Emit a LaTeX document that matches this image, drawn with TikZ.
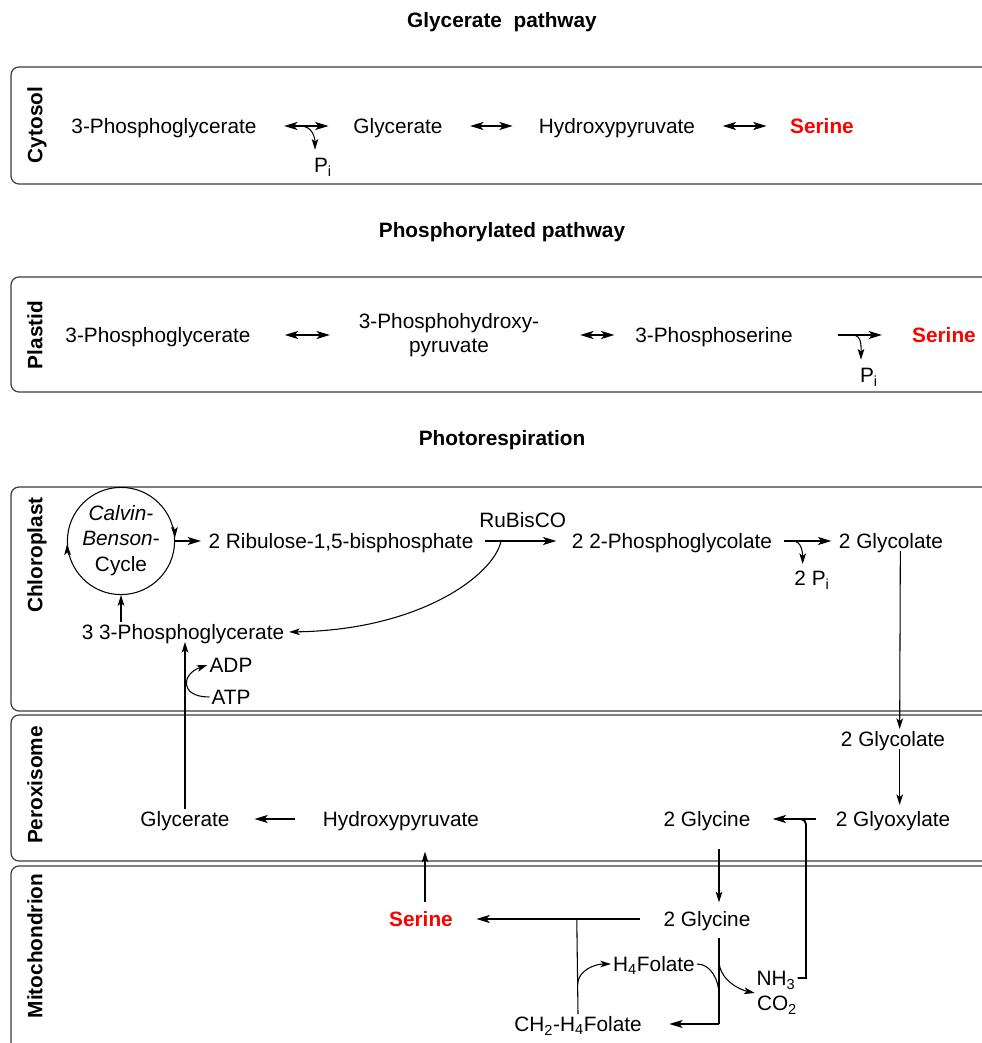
\documentclass[tikz,border=0pt]{standalone}
\usepackage{fontspec}
\setmainfont{Liberation Sans}
\usetikzlibrary{arrows.meta}
\definecolor{SerRed}{HTML}{FF0000}
\definecolor{BoxLine}{HTML}{3A3A3A}
\newcommand\fs{\fontsize{15.6}{18}\selectfont}
\tikzset{
  comp/.style={draw=BoxLine,line width=.9pt,rounded corners=6pt},
  title/.style={font=\fs\bfseries},
  side/.style={rotate=90,font=\fs\bfseries},
  ser/.style={font=\fs\bfseries,text=SerRed},
  arr/.style={-{Stealth[length=8pt,width=5pt,inset=2pt]}},
  rxn/.style={-{Stealth[length=10pt,width=6pt,inset=2.5pt]},line width=1.4pt},
  rev/.style={{Stealth[length=10pt,width=6pt,inset=2.5pt]}-{Stealth[length=10pt,width=6pt,inset=2.5pt]},line width=1.4pt},
  thn/.style={arr,line width=.8pt},
  lnk/.style={line width=.8pt},
  lnkthk/.style={line width=1.4pt},
  multi/.style={align=center,text height=,text depth=},
}

\begin{document}
\begin{tikzpicture}[x=0.75pt,y=0.75pt,font=\fs,
  every node/.style={inner sep=1.5pt,text height=11.4pt,text depth=.2pt}]
\path[use as bounding box] (0,0) rectangle (982,1043);
% compartments
\draw[comp] (11,976) rectangle (1000,859);
\draw[comp] (11,766) rectangle (1000,651);
\draw[comp] (11,556) rectangle (1000,332);
\draw[comp] (11,328) rectangle (1000,182);
\draw[comp] (11,177) rectangle (1000,-20);
\node[title] (tgly) at (502,1023) {Glycerate\ \ pathway};
\node[title] (tphos) at (502,813) {Phosphorylated pathway};
\node[title] (tphot) at (502,605) {Photorespiration};
\node[side] (lcyt) at (35,918) {Cytosol};
\node[side] (lpla) at (35,708) {Plastid};
\node[side] (lchl) at (35,488) {Chloroplast};
\node[side] (lper) at (35,258) {Peroxisome};
\node[side] (lmit) at (35,97) {Mitochondrion};

% cytosol
\node (cy1) at (164,917) {3-Phosphoglycerate};
\node (cy2) at (398,917) {Glycerate};
\node (cy3) at (617,917) {Hydroxypyruvate};
\node[ser] (cy4) at (822,917) {Serine};
\node (cypi) at (323,878) {P\textsubscript{i}};
\draw[rev,shorten <=19pt,shorten >=17pt] (cy1) -- coordinate[pos=.45] (cm1) (cy2);
\draw[rev,shorten <=19pt,shorten >=18pt] (cy2) -- (cy3);
\draw[rev,shorten <=19pt,shorten >=16pt] (cy3) -- (cy4);
\draw[thn] (cm1) .. controls +(12,0) and +(0,12) .. ([shift={(-6pt,4pt)}]cypi.north);

% plastid
\node (pl1) at (158,708) {3-Phosphoglycerate};
\node[multi] (pl2) at (449,708) {3-Phosphohydroxy-\\pyruvate};
\node (pl3) at (714,708) {3-Phosphoserine};
\node[ser] (pl4) at (944,708) {Serine};
\node (plpi) at (869,668) {P\textsubscript{i}};
\draw[rev,shorten <=24pt,shorten >=20pt] (pl1) -- (pl2);
\draw[rev,shorten <=29pt,shorten >=14pt] (pl2) -- (pl3);
\draw[rxn,shorten <=32pt,shorten >=21pt] (pl3) -- coordinate[pos=.5] (pm1) (pl4);
\draw[thn] (pm1) .. controls +(10,0) and +(0,12) .. ([shift={(-6pt,4pt)}]plpi.north);

% chloroplast
\node[multi,draw,circle,minimum size=78pt,inner sep=0pt,line width=.8pt] (cbc) at (121,502)
  {\raisebox{-3pt}{\begin{tabular}{@{}c@{}}\textit{Calvin-}\\[1pt]\textit{Benson}-\\[1pt]Cycle\end{tabular}}};
\draw[arr,line width=.8pt] (cbc.195) arc[start angle=195,end angle=183,radius=39pt];
\draw[arr,line width=.8pt] (cbc.15) arc[start angle=15,end angle=3,radius=39pt];
\node (rub) at (341,502) {2 Ribulose-1,5-bisphosphate};
\node (pgly) at (672,502) {2 2-Phosphoglycolate};
\node (gly1) at (891,502) {2 Glycolate};
\node (chpi) at (812,465) {2 P\textsubscript{i}};
\node (pg3) at (183,411) {3 3-Phosphoglycerate};
\node (adp) at (231,378) {ADP};
\node (atp) at (231,346) {ATP};
\draw[rxn,shorten >=4pt] (cbc) -- (rub);
\draw[rxn,shorten <=7pt,shorten >=10pt] (rub) -- coordinate[pos=.27] (rbm) node[midway,above=8pt] (rbc) {RuBisCO} (pgly);
\draw[thn,shorten >=2pt] (rbm) .. controls (494,468) and (420,413) .. (pg3.east);
\draw[rxn,shorten <=7pt,shorten >=4pt] (pgly) -- coordinate[pos=.3] (pm2) (gly1);
\draw[thn] (pm2) .. controls +(9,0) and +(0,10) .. ([shift={(-7pt,3pt)}]chpi.north);
\draw[thn] (pg3.north -| cbc.south) -- (cbc.south);

% peroxisome
\node (glyP) at (893,304) {2 Glycolate};
\node (glyox) at (893,224) {2 Glyoxylate};
\node (glyP2) at (707,224) {2 Glycine};
\node (hpyr) at (401,224) {Hydroxypyruvate};
\node (glyc) at (185,224) {Glycerate};
\draw[thn] ([xshift=7pt]gly1.south) -- ([xshift=5pt]glyP.north);
\draw[thn,shorten >=3pt] ([xshift=5pt]glyP.south) -- ([xshift=5pt]glyox.north);
\draw[rxn,shorten <=13pt,shorten >=15pt] (glyox) -- coordinate[pos=.34] (oxm) (glyP2);
\draw[rxn,shorten <=19pt,shorten >=17pt] (hpyr) -- (glyc);
\draw[thn] (glyc.north) -- (glyc.north |- pg3.south);
\draw[thn] (atp.west) .. controls +(-30,0) and +(-26,-9) .. (adp.west);

% mitochondrion
\node[ser] (ser) at (421,124) {Serine};
\node (glyM) at (707,124) {2 Glycine};
\node (h4f) at (654,79) {H\textsubscript{4}Folate};
\node (ch2) at (578,19) {CH\textsubscript{2}-H\textsubscript{4}Folate};
\node (nh3) at (776,65) {NH\textsubscript{3}};
\node (co2) at (777,40) {CO\textsubscript{2}};
\draw[thn,shorten <=15pt,shorten >=5pt] ([xshift=9pt]glyP2.south) -- ([xshift=9pt]glyM.north);
\draw[thn,shorten <=5pt,shorten >=17pt] ([xshift=3pt]ser.north) -- ([xshift=3pt]ser.north |- hpyr.south);
\draw[rxn,shorten <=16pt,shorten >=16pt] (glyM) -- coordinate[pos=.41] (sj) (ser);
\draw[lnk] (ch2.north) -- coordinate[pos=.31] (cj) (sj);
\draw[thn] (cj) .. controls +(0,14) and +(-16,0) .. (h4f.west);
\draw[lnk,shorten <=7pt] ([xshift=9pt]glyM.south) -- coordinate[pos=.33] (gv1) coordinate[pos=.69] (gv2)
  ([xshift=9pt]glyM.south |- ch2.east) coordinate (gvb);
\draw[rxn,shorten >=19pt] (gvb) -- (ch2.east);
\draw[thn] (gv1) .. controls +(0,-20) and +(-14,3) .. (co2.north west);
\draw[lnk] (h4f.east) .. controls +(14,0) and +(0,14) .. (gv2);
\draw[lnkthk] (nh3.east) -| ([yshift=-4pt]oxm) to[out=90,in=0] ([xshift=-4pt]oxm);
\end{tikzpicture}
\end{document}
